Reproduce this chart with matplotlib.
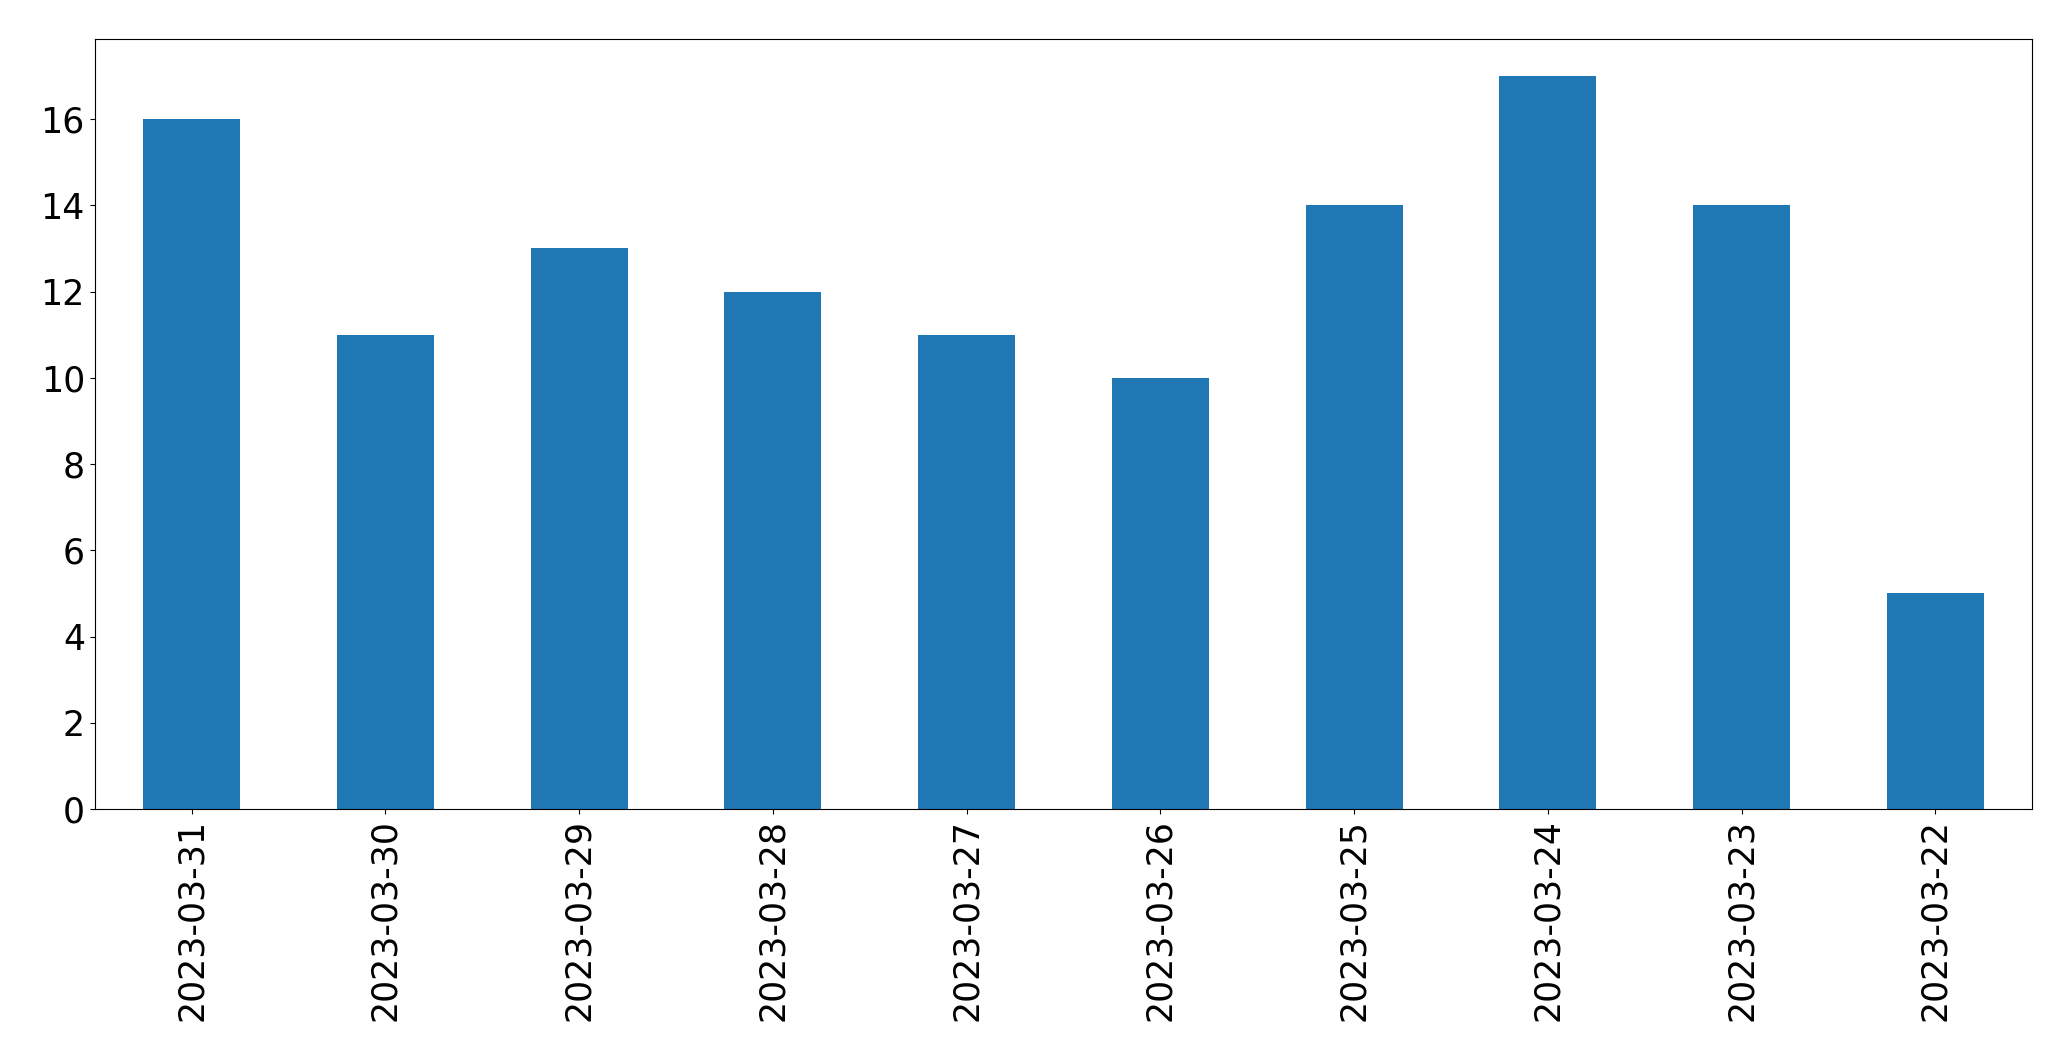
import matplotlib
matplotlib.use("Agg")
import matplotlib.pyplot as plt
import numpy as np

dates = ["2023-03-31", "2023-03-30", "2023-03-29", "2023-03-28", "2023-03-27",
         "2023-03-26", "2023-03-25", "2023-03-24", "2023-03-23", "2023-03-22"]
counts = [16, 11, 13, 12, 11, 10, 14, 17, 14, 5]

fig = plt.figure(figsize=(20.71, 10.61), dpi=100)
ax = fig.add_axes([94.7 / 2071, 1 - 809 / 1061, (2032.3 - 94.7) / 2071, (809 - 39.3) / 1061])

x = np.arange(len(dates))
ax.bar(x, counts, width=0.5, color="#1f77b4")
ax.set_xlim(-0.5, len(dates) - 0.5)
ax.set_ylim(0, max(counts) * 1.05)
ax.set_xticks(x)
ax.set_xticklabels(dates, rotation=90)
ax.set_yticks(np.arange(0, 17, 2))
ax.tick_params(labelsize=25)

fig.savefig("out.png", dpi=100)
